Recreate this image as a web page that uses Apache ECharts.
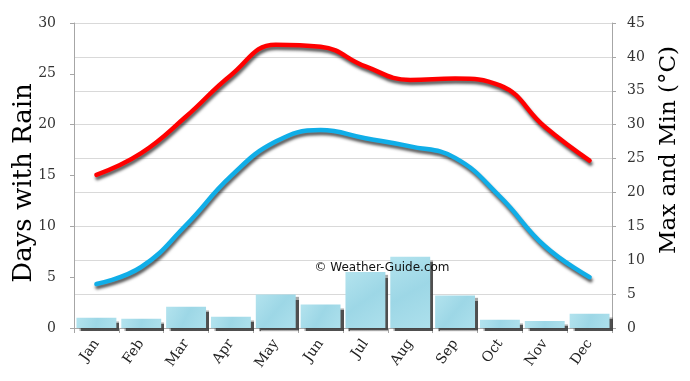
<!DOCTYPE html>
<html>
<head>
<meta charset="utf-8">
<script src="https://cdn.jsdelivr.net/npm/echarts@6/dist/echarts.min.js"></script>
<style>html,body{margin:0;padding:0;background:#fff;}#c{width:690px;height:381px;}</style>
</head>
<body>
<div id="c"></div>
<script>
var months = ['Jan','Feb','Mar','Apr','May','Jun','Jul','Aug','Sep','Oct','Nov','Dec'];
var rainDays = [1.0, 0.9, 2.1, 1.1, 3.3, 2.3, 5.5, 7.0, 3.2, 0.8, 0.7, 1.4];
var maxTemp = [22.6, 25.8, 31.2, 37.3, 41.8, 41.5, 38.6, 36.6, 36.8, 35.8, 29.7, 24.7];
var minTemp = [6.5, 9.0, 15.2, 22.4, 27.5, 29.2, 28.0, 26.8, 25.1, 19.4, 12.1, 7.5];
var leftTitle = 'Days with Rain';
var rightTitle = 'Max and Min (°C)';
var watermark = '© Weather-Guide.com';

var chart = echarts.init(document.getElementById('c'), null, {renderer: 'canvas'});
var serif = '"DejaVu Serif", serif';
chart.setOption({
  animation: false,
  backgroundColor: '#fff',
  grid: {left: 74, right: 78, top: 23, bottom: 53, containLabel: false},
  xAxis: {
    type: 'category', data: months, boundaryGap: true,
    axisLine: {show: true, lineStyle: {color: '#a6a6a6', width: 1}},
    axisTick: {show: true, alignWithLabel: false, length: 5, lineStyle: {color: '#a6a6a6'}},
    axisLabel: {rotate: 55, margin: 13, fontFamily: serif, fontSize: 14, color: '#222', interval: 0},
    splitLine: {show: false}
  },
  yAxis: [
    {
      type: 'value', min: 0, max: 30, interval: 5, position: 'left',
      axisLine: {show: true, lineStyle: {color: '#a6a6a6'}},
      axisTick: {show: true, length: 4, lineStyle: {color: '#a6a6a6'}},
      axisLabel: {fontFamily: serif, fontSize: 14, color: '#333', margin: 18},
      splitLine: {show: false}
    },
    {
      type: 'value', min: 0, max: 45, interval: 5, position: 'right',
      axisLine: {show: true, lineStyle: {color: '#a6a6a6'}},
      axisTick: {show: true, length: 4, lineStyle: {color: '#a6a6a6'}},
      axisLabel: {fontFamily: serif, fontSize: 14, color: '#333', margin: 15},
      splitLine: {show: true, lineStyle: {color: '#d9d9d9', width: 1}}
    }
  ],
  graphic: [
    {type: 'text', rotation: Math.PI/2, position: [24, 183],
     style: {text: leftTitle, font: '26px "DejaVu Serif", serif', fill: '#000', textAlign: 'center', textVerticalAlign: 'middle'}},
    {type: 'text', rotation: Math.PI/2, position: [669, 150],
     style: {text: rightTitle, font: '23px "DejaVu Serif", serif', fill: '#000', textAlign: 'center', textVerticalAlign: 'middle'}},
    {type: 'text', position: [382, 268], z: 10,
     style: {text: watermark, font: '12px "DejaVu Sans", sans-serif', fill: '#111', textAlign: 'center', textVerticalAlign: 'middle'}}
  ],
  series: [
    {
      type: 'bar', data: rainDays, yAxisIndex: 0, barCategoryGap: '11%',
      itemStyle: {
        color: new echarts.graphic.LinearGradient(0, 0, 1, 1, [
          {offset: 0, color: '#b3e3ee'}, {offset: 0.5, color: '#9dd7e6'}, {offset: 1, color: '#ade0ec'}
        ]),
        shadowColor: 'rgba(60,60,60,0.9)', shadowOffsetX: 3, shadowOffsetY: 3, shadowBlur: 1
      }
    },
    {
      type: 'line', data: maxTemp, yAxisIndex: 1, smooth: 0.45, symbol: 'none',
      lineStyle: {color: '#ff0000', width: 4.5, shadowColor: 'rgba(0,0,0,0.65)', shadowBlur: 3, shadowOffsetX: 1, shadowOffsetY: 3, cap: 'round'},
      z: 3
    },
    {
      type: 'line', data: minTemp, yAxisIndex: 1, smooth: 0.45, symbol: 'none',
      lineStyle: {color: '#10aee8', width: 4.5, shadowColor: 'rgba(0,0,0,0.65)', shadowBlur: 3, shadowOffsetX: 1, shadowOffsetY: 3, cap: 'round'},
      z: 3
    }
  ]
});
</script>
</body>
</html>
